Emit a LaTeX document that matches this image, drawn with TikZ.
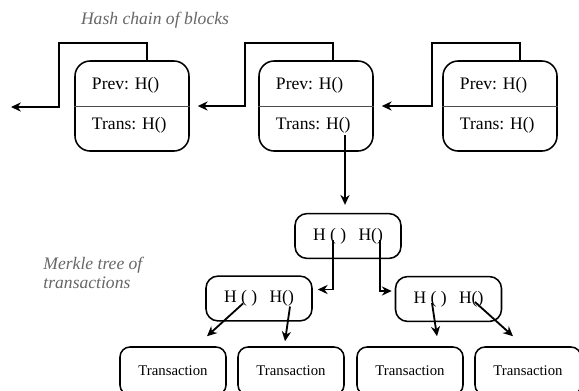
\documentclass[tikz,border=0pt]{standalone}
\usepackage{fontspec}
\setmainfont{Liberation Serif}
\usetikzlibrary{arrows.meta,positioning}

\begin{document}
\begin{tikzpicture}[x=0.025cm,y=-0.025cm,line width=1.1pt,font=\fontsize{12.5}{13.5}\selectfont]
\tikzstyle{block}=[draw,rounded corners=0.38cm,minimum width=2.85cm,minimum height=2.25cm]
\tikzstyle{hnode}=[draw,rounded corners=0.3cm,minimum width=2.65cm,minimum height=1.12cm]
\tikzstyle{tnode}=[draw,rounded corners=0.25cm,minimum width=2.65cm,minimum height=1.2cm,font=\fontsize{10.5}{12}\selectfont]
\tikzstyle{lbl}=[anchor=west,inner sep=0pt]
\tikzstyle{link}=[-{Stealth[length=7pt,width=6.5pt]},line width=1.3pt]
\tikzstyle{note}=[text=black!60,font=\fontsize{12.5}{13.5}\selectfont\itshape,align=left]
\useasboundingbox (0,0) rectangle (579,390);
\clip (0,0) rectangle (579,390);
%titulos
\node[note] (title) at (155,20) {Hash chain of blocks};
\node[note,anchor=west] (mtitle) at (38,273) {Merkle tree of\\transactions};
%bloques
\node[block] (b1) at (132,106) {};
\node[block] (b2) at (316,106) {};
\node[block] (b3) at (500,106) {};
\foreach \b in {b1,b2,b3}{
  \draw[line width=0.6pt,black!70] (\b.west) -- (\b.east);
  \node[lbl] (\b-prev) at ([shift={(17,-21)}]\b.west) {Prev: H()};
  \node[lbl] (\b-trans) at ([shift={(17,19)}]\b.west) {Trans: H()};
}
%enlaces de la cadena
\coordinate (k1) at (59,43);
\coordinate (k2) at (245,43);
\coordinate (k3) at (432,43);
\coordinate (end) at (11,107);
\draw[link] ([xshift=0.375cm]b1.north) |- (k1) |- (end);
\draw[link] ([xshift=0.425cm]b2.north) |- (k2) |- ([xshift=0.2cm]b1.east);
\draw[link] ([xshift=0.5cm]b3.north) |- (k3) |- ([xshift=0.2cm]b2.east);
%arbol de merkle
\node[hnode] (m0) at (348,236) {H ( )\hspace{0.7em}H()};
\node[hnode] (m1) at (259,298.5) {H ( )\hspace{0.7em}H()};
\node[hnode] (m2) at (448.5,299) {H ( )\hspace{0.7em}H()};
\node[tnode] (tx1) at (173,371) {Transaction};
\node[tnode] (tx2) at (291,371) {Transaction};
\node[tnode] (tx3) at (410,371) {Transaction};
\node[tnode] (tx4) at (528,371) {Transaction};
%conexiones del arbol
\coordinate (s2) at ([shift={(29,29)}]b2.center);
\draw[link] (s2) -- ([yshift=0.2cm]s2 |- m0.north);
\draw[link] ([shift={(-15,4)}]m0.center) |- ([shift={(5,-9)}]m1.east);
\draw[link] ([shift={(32,4)}]m0.center) |- ([shift={(-3,-8)}]m2.west);
\draw[link] ([shift={(-16,5)}]m1.center) -- ([shift={(34,-10)}]tx1.north);
\draw[link] ([shift={(31,8)}]m1.center) -- ([shift={(-6,-5)}]tx2.north);
\draw[link] ([shift={(-16.5,4)}]m2.center) -- ([shift={(27,-10)}]tx3.north);
\draw[link] ([shift={(26.5,3)}]m2.center) -- ([shift={(-15,-10)}]tx4.north);
\end{tikzpicture}
\end{document}
